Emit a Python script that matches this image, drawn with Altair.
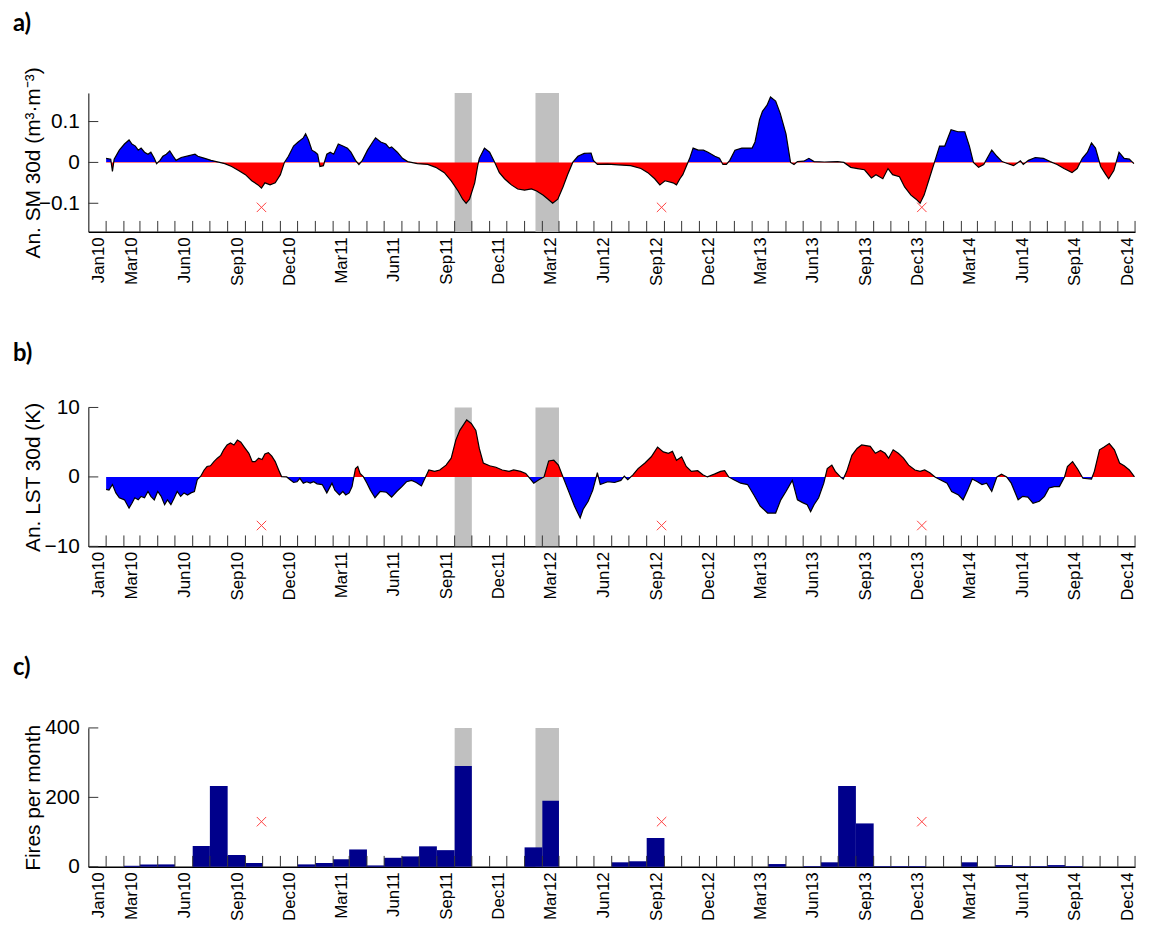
import altair as alt
import pandas as pd

# ---------------- data ----------------
# a) 30-day soil-moisture anomaly (m3/m3)
sm_dates = [
    "2010-01-01", "2010-01-09", "2010-01-12", "2010-01-15", "2010-01-24", "2010-02-02", "2010-02-10",
    "2010-02-15", "2010-02-21", "2010-02-26", "2010-03-03", "2010-03-09", "2010-03-15", "2010-03-20",
    "2010-03-26", "2010-03-30", "2010-04-05", "2010-04-10", "2010-04-16", "2010-04-22", "2010-04-28",
    "2010-05-03", "2010-05-12", "2010-05-24", "2010-06-05", "2010-06-10", "2010-06-22", "2010-07-03",
    "2010-07-12", "2010-07-18", "2010-07-27", "2010-08-08", "2010-08-20", "2010-09-01", "2010-09-12",
    "2010-09-23", "2010-09-29", "2010-10-05", "2010-10-14", "2010-10-23", "2010-11-01", "2010-11-08",
    "2010-11-15", "2010-11-24", "2010-12-02", "2010-12-11", "2010-12-15", "2010-12-20", "2010-12-26",
    "2011-01-01", "2011-01-05", "2011-01-09", "2011-01-15", "2011-01-21", "2011-01-27", "2011-02-02",
    "2011-02-10", "2011-02-18", "2011-02-26", "2011-03-04", "2011-03-12", "2011-03-18", "2011-03-24",
    "2011-04-02", "2011-04-11", "2011-04-16", "2011-04-25", "2011-05-04", "2011-05-10", "2011-05-14",
    "2011-05-24", "2011-06-02", "2011-06-11", "2011-06-28", "2011-07-16", "2011-07-30", "2011-08-14",
    "2011-08-26", "2011-09-07", "2011-09-15", "2011-09-21", "2011-09-27", "2011-10-06", "2011-10-11",
    "2011-10-14", "2011-10-23", "2011-11-01", "2011-11-10", "2011-11-18", "2011-11-27", "2011-12-09",
    "2011-12-20", "2012-01-01", "2012-01-13", "2012-01-22", "2012-02-02", "2012-02-11", "2012-02-19",
    "2012-02-28", "2012-03-08", "2012-03-16", "2012-03-25", "2012-04-03", "2012-04-14", "2012-04-26",
    "2012-04-30", "2012-05-07", "2012-05-25", "2012-06-12", "2012-07-04", "2012-07-22", "2012-08-03",
    "2012-08-15", "2012-08-24", "2012-09-02", "2012-09-16", "2012-09-22", "2012-09-28", "2012-10-03",
    "2012-10-09", "2012-10-15", "2012-10-21", "2012-10-30", "2012-11-08", "2012-11-16", "2012-11-28",
    "2012-12-06", "2012-12-12", "2012-12-18", "2012-12-24", "2013-01-02", "2013-01-14", "2013-02-01",
    "2013-02-06", "2013-02-14", "2013-02-19", "2013-02-27", "2013-03-05", "2013-03-14", "2013-03-22",
    "2013-04-01", "2013-04-09", "2013-04-15", "2013-04-21", "2013-05-02", "2013-05-11", "2013-05-20",
    "2013-06-07", "2013-06-30", "2013-07-11", "2013-07-23", "2013-08-04", "2013-08-16", "2013-08-28",
    "2013-09-05", "2013-09-17", "2013-09-26", "2013-10-04", "2013-10-16", "2013-10-25", "2013-11-05",
    "2013-11-14", "2013-11-21", "2013-11-28", "2013-12-07", "2013-12-16", "2013-12-25", "2014-01-03",
    "2014-01-14", "2014-01-26", "2014-02-07", "2014-02-15", "2014-02-22", "2014-03-03", "2014-03-12",
    "2014-03-18", "2014-03-26", "2014-04-04", "2014-04-13", "2014-04-21", "2014-05-03", "2014-05-15",
    "2014-05-20", "2014-05-29", "2014-06-10", "2014-06-24", "2014-07-06", "2014-07-18", "2014-07-30",
    "2014-08-13", "2014-08-22", "2014-08-31", "2014-09-09", "2014-09-16", "2014-09-23", "2014-10-02",
    "2014-10-11", "2014-10-16", "2014-10-25", "2014-11-03", "2014-11-12", "2014-11-21", "2014-11-29",
]
sm_values = [
    0.010, 0.008, -0.022, 0.008, 0.030, 0.045, 0.055,
    0.045, 0.040, 0.030, 0.035, 0.025, 0.020, 0.025,
    0.010, -0.003, 0.005, 0.015, 0.020, 0.028, 0.015,
    0.005, 0.012, 0.016, 0.020, 0.015, 0.010, 0.005,
    0.002, 0.000, -0.003, -0.010, -0.020, -0.030, -0.045,
    -0.055, -0.063, -0.050, -0.055, -0.050, -0.030, 0.000,
    0.015, 0.040, 0.050, 0.060, 0.070, 0.055, 0.030,
    0.025, 0.020, -0.010, -0.008, 0.020, 0.025, 0.020,
    0.045, 0.040, 0.035, 0.025, 0.005, -0.005, 0.005,
    0.030, 0.050, 0.060, 0.050, 0.045, 0.035, 0.038,
    0.025, 0.010, 0.002, -0.003, -0.005, -0.012, -0.025,
    -0.045, -0.070, -0.090, -0.100, -0.090, -0.050, -0.010,
    0.010, 0.035, 0.025, 0.000, -0.025, -0.040, -0.055,
    -0.065, -0.068, -0.065, -0.070, -0.080, -0.090, -0.100,
    -0.090, -0.060, -0.030, 0.000, 0.015, 0.022, 0.023,
    0.005, -0.005, -0.004, -0.006, -0.008, -0.015, -0.025,
    -0.040, -0.055, -0.045, -0.050, -0.055, -0.040, -0.030,
    -0.010, 0.010, 0.035, 0.030, 0.030, 0.025, 0.015,
    0.010, -0.005, -0.005, 0.005, 0.030, 0.035, 0.035,
    0.050, 0.105, 0.125, 0.140, 0.160, 0.150, 0.120,
    0.070, 0.000, -0.005, 0.002, 0.003, 0.010, 0.002,
    0.001, 0.002, 0.000, -0.012, -0.015, -0.018, -0.038,
    -0.030, -0.040, -0.015, -0.030, -0.035, -0.060, -0.080,
    -0.090, -0.100, -0.080, -0.040, 0.000, 0.040, 0.040,
    0.080, 0.075, 0.075, 0.040, 0.000, -0.012, -0.005,
    0.010, 0.030, 0.015, 0.002, -0.002, -0.008, 0.004,
    -0.005, 0.005, 0.012, 0.010, 0.002, -0.005, -0.015,
    -0.025, -0.015, 0.010, 0.025, 0.048, 0.035, -0.010,
    -0.030, -0.040, -0.020, 0.025, 0.010, 0.008, -0.003,
]

# b) 30-day land-surface-temperature anomaly (K)
lst_dates = [
    "2010-01-01", "2010-01-06", "2010-01-12", "2010-01-18", "2010-01-24", "2010-02-02", "2010-02-10",
    "2010-02-15", "2010-02-20", "2010-02-26", "2010-03-03", "2010-03-09", "2010-03-15", "2010-03-20",
    "2010-03-26", "2010-04-01", "2010-04-07", "2010-04-13", "2010-04-18", "2010-04-24", "2010-04-30",
    "2010-05-05", "2010-05-11", "2010-05-17", "2010-05-23", "2010-05-29", "2010-06-04", "2010-06-09",
    "2010-06-15", "2010-06-21", "2010-06-26", "2010-07-02", "2010-07-08", "2010-07-14", "2010-07-20",
    "2010-07-25", "2010-07-31", "2010-08-06", "2010-08-12", "2010-08-18", "2010-08-24", "2010-08-30",
    "2010-09-07", "2010-09-13", "2010-09-18", "2010-09-24", "2010-09-30", "2010-10-05", "2010-10-11",
    "2010-10-17", "2010-10-23", "2010-10-29", "2010-11-03", "2010-11-12", "2010-11-18", "2010-11-24",
    "2010-11-30", "2010-12-05", "2010-12-11", "2010-12-17", "2010-12-23", "2010-12-29", "2011-01-04",
    "2011-01-13", "2011-01-21", "2011-01-30", "2011-02-04", "2011-02-12", "2011-02-18", "2011-02-23",
    "2011-03-01", "2011-03-06", "2011-03-12", "2011-03-16", "2011-03-20", "2011-03-26", "2011-04-01",
    "2011-04-07", "2011-04-15", "2011-04-24", "2011-05-05", "2011-05-14", "2011-05-23", "2011-06-01",
    "2011-06-09", "2011-06-18", "2011-06-26", "2011-07-05", "2011-07-10", "2011-07-18", "2011-07-28",
    "2011-08-06", "2011-08-17", "2011-08-26", "2011-09-03", "2011-09-10", "2011-09-18", "2011-09-22",
    "2011-09-30", "2011-10-08", "2011-10-14", "2011-10-21", "2011-11-01", "2011-11-12", "2011-11-23",
    "2011-12-05", "2011-12-13", "2011-12-25", "2012-01-03", "2012-01-12", "2012-01-17", "2012-01-26",
    "2012-02-04", "2012-02-12", "2012-02-21", "2012-02-29", "2012-03-08", "2012-03-17", "2012-03-28",
    "2012-04-07", "2012-04-12", "2012-04-21", "2012-04-29", "2012-05-07", "2012-05-12", "2012-05-25",
    "2012-06-06", "2012-06-17", "2012-06-23", "2012-06-29", "2012-07-08", "2012-07-17", "2012-07-29",
    "2012-08-09", "2012-08-20", "2012-08-30", "2012-09-08", "2012-09-15", "2012-09-22", "2012-10-01",
    "2012-10-09", "2012-10-18", "2012-10-29", "2012-11-07", "2012-11-15", "2012-11-27", "2012-12-08",
    "2012-12-15", "2012-12-22", "2012-12-31", "2013-01-12", "2013-01-24", "2013-02-04", "2013-02-15",
    "2013-02-28", "2013-03-14", "2013-03-23", "2013-04-01", "2013-04-12", "2013-04-21", "2013-04-30",
    "2013-05-08", "2013-05-14", "2013-05-20", "2013-05-28", "2013-06-06", "2013-06-12", "2013-06-20",
    "2013-06-26", "2013-07-05", "2013-07-10", "2013-07-16", "2013-07-25", "2013-08-03", "2013-08-11",
    "2013-08-26", "2013-09-04", "2013-09-13", "2013-09-21", "2013-09-27", "2013-10-05", "2013-10-14",
    "2013-10-23", "2013-11-01", "2013-11-12", "2013-11-21", "2013-11-29", "2013-12-08", "2013-12-17",
    "2013-12-26", "2014-01-07", "2014-01-15", "2014-01-27", "2014-02-04", "2014-02-12", "2014-02-20",
    "2014-03-01", "2014-03-09", "2014-03-17", "2014-03-26", "2014-04-04", "2014-04-12", "2014-04-21",
    "2014-04-29", "2014-05-11", "2014-05-19", "2014-05-28", "2014-06-06", "2014-06-17", "2014-06-26",
    "2014-07-04", "2014-07-13", "2014-07-22", "2014-07-31", "2014-08-05", "2014-08-14", "2014-08-23",
    "2014-09-01", "2014-09-16", "2014-09-21", "2014-09-30", "2014-10-08", "2014-10-17", "2014-10-26",
    "2014-11-04", "2014-11-12", "2014-11-21", "2014-11-30",
]
lst_values = [
    -1.8, -1.9, -1.1, -2.3, -3.0, -3.3, -4.5,
    -3.8, -3.0, -3.3, -2.8, -3.0, -2.1, -2.8,
    -3.3, -2.1, -2.8, -4.0, -3.3, -4.0, -3.0,
    -2.1, -2.8, -2.3, -2.6, -2.3, -2.1, -0.4,
    0.1, 1.0, 1.5, 1.6, 2.2, 2.7, 3.1,
    3.9, 4.6, 4.9, 4.6, 5.3, 5.0, 4.3,
    3.4, 2.2, 2.2, 2.7, 2.5, 3.3, 3.5,
    3.0, 2.2, 1.0, 0.05, 0.0, -0.4, -0.8,
    -0.7, -0.2, -0.9, -0.7, -0.9, -0.7, -1.0,
    -1.1, -2.3, -0.9, -1.9, -2.6, -2.1, -2.6,
    -2.3, -1.4, 1.2, 1.5, 0.5, 0.0, -0.9,
    -1.9, -3.0, -2.1, -2.2, -2.9, -2.1, -1.4,
    -0.7, -0.5, -0.8, -1.3, -0.4, 1.0, 0.8,
    1.0, 1.7, 2.7, 5.3, 6.7, 7.7, 8.2,
    7.7, 6.7, 4.1, 2.0, 1.6, 1.4, 1.0,
    0.8, 1.0, 0.8, 0.5, -0.4, -0.9, -0.4,
    0.0, 2.3, 2.4, 1.7, 0.0, -1.9, -4.2,
    -5.9, -4.7, -3.5, -1.9, 0.6, -1.1, -0.7,
    -0.8, -0.5, 0.1, -0.4, 0.3, 1.2, 2.0,
    2.9, 4.3, 3.6, 3.4, 3.7, 2.4, 2.9,
    1.5, 0.8, 0.9, 0.3, 0.0, 0.4, 0.8,
    0.9, 0.0, -0.4, -0.9, -1.1, -2.6, -4.2,
    -5.2, -5.2, -3.3, -2.1, -0.5, -3.3, -3.7,
    -4.0, -5.0, -4.0, -3.0, -0.9, 1.2, 1.7,
    0.8, 0.0, -0.3, 0.8, 3.1, 4.1, 4.6,
    4.4, 3.4, 3.8, 3.4, 2.7, 3.9, 3.4,
    2.7, 1.7, 1.0, 0.8, 1.0, 0.6, 0.0,
    -0.4, -0.9, -2.1, -2.6, -3.3, -1.9, -0.3,
    -0.7, -1.1, -0.9, -2.1, 0.0, 0.4, 0.0,
    -0.9, -3.3, -2.8, -2.9, -3.8, -3.5, -2.8,
    -1.6, -1.4, -1.4, 0.0, 1.5, 2.2, 1.1,
    -0.2, -0.3, 0.8, 3.9, 4.3, 4.8, 3.9,
    2.0, 1.6, 1.0, 0.0,
]

# c) fires per month, Jan 2010 .. Dec 2014
fire_months = [f"{y}-{m:02d}-01" for y in range(2010, 2015) for m in range(1, 13)]
fire_counts = [
    0, 3, 7, 7, 0, 60, 233, 34, 11, 0, 0, 7,          # 2010
    11, 22, 50, 4, 26, 30, 59, 48, 290, 0, 0, 0,      # 2011
    56, 190, 0, 0, 0, 13, 16, 83, 0, 0, 0, 0,         # 2012
    0, 0, 8, 0, 2, 13, 233, 125, 2, 2, 2, 0,          # 2013
    0, 13, 0, 5, 2, 2, 5, 2, 0, 0, 0, 0,              # 2014
]

# grey highlighted periods
shade_start = ["2011-09-01", "2012-01-20"]
shade_end = ["2011-10-01", "2012-03-01"]

# red reference crosses
cross_dates = ["2010-09-29", "2012-08-27", "2013-11-24"]
cross_sm = [-0.11, -0.11, -0.11]
cross_lst = [-7, -7, -7]
cross_fire = [130, 130, 130]

# axis ticks / labels
tick_months = fire_months
label_months = [(2010, 1), (2010, 3), (2010, 6), (2010, 9), (2010, 12), (2011, 3), (2011, 6),
                (2011, 9), (2011, 12), (2012, 3), (2012, 6), (2012, 9), (2012, 12), (2013, 3),
                (2013, 6), (2013, 9), (2013, 12), (2014, 3), (2014, 6), (2014, 9), (2014, 12)]
sm_ticks = [-0.1, 0, 0.1]
lst_ticks = [-10, 0, 10]
fire_ticks = [0, 200, 400]

# ---------------- chart ----------------
W, H = 1055, 140
FONT = "Liberation Sans"

x_scale = alt.Scale(type="utc", domain=[alt.DateTime(year=2009, month=12, date=1, utc=True),
                                         alt.DateTime(year=2014, month=12, date=1, utc=True)])
x_axis = alt.Axis(
    values=[alt.DateTime(year=y, month=m, date=1, utc=True) for y, m in label_months],
    format="%b%y", labelAngle=270, labelAlign="right", labelBaseline="middle",
    labelOffset=-8, labelPadding=5, labelFontSize=17, labelFlush=False, labelOverlap=False,
    ticks=False, tickSize=0, grid=False, domainColor="black", domainWidth=1.5, title=None,
)


def y_axis(vals, title, fmt):
    return alt.Axis(values=vals, format=fmt, ticks=False, tickSize=0, labelPadding=9,
                    labelFontSize=21, minExtent=44, maxExtent=44, titlePadding=1,
                    titleFontSize=21, titleFontWeight="normal", grid=False,
                    domainColor="black", domainWidth=1, title=title)


def sign_gradient(values, top_color, bottom_color):
    f = max(values) / (max(values) - min(values))
    return alt.Gradient(gradient="linear", x1=0, x2=0, y1=0, y2=1, stops=[
        alt.GradientStop(offset=0, color=top_color),
        alt.GradientStop(offset=f, color=top_color),
        alt.GradientStop(offset=f, color=bottom_color),
        alt.GradientStop(offset=1, color=bottom_color),
    ])


def common_layers(yscale, yaxis, cross_vals, y_tick_vals):
    X = lambda f: alt.X(f"{f}:T", scale=x_scale, axis=x_axis)
    Y = lambda f: alt.Y(f"{f}:Q", scale=yscale, axis=yaxis)
    shade = alt.Chart(pd.DataFrame({"s": shade_start, "e": shade_end})).mark_rect(
        color="#c0c0c0").encode(x=X("s"), x2="e:T", y=alt.value(0), y2=alt.value(H))
    cross = alt.Chart(pd.DataFrame({"d": cross_dates, "v": cross_vals})).mark_point(
        shape="M-1,-1L1,1M-1,1L1,-1", size=90, filled=False, color="#ff0000",
        strokeWidth=1, opacity=0.75).encode(x=X("d"), y=Y("v"))
    xt = alt.Chart(pd.DataFrame({"d": tick_months})).mark_rule(
        color="#333333", strokeWidth=1).encode(x=X("d"), y=alt.value(H), y2=alt.value(H - 11))
    yt = alt.Chart(pd.DataFrame({"v": y_tick_vals})).mark_rule(
        color="#333333", strokeWidth=1).encode(y=Y("v"), x=alt.value(0), x2=alt.value(10))
    return shade, cross, xt, yt, X, Y


def panel_title(text, offset):
    return alt.TitleParams(text, anchor="start", frame="group", dx=-76, offset=offset,
                           fontSize=24, fontWeight="bold", font="Lato", color="black")


def anomaly_panel(dates, values, yscale, yaxis, top_color, bottom_color, cross_vals,
                  y_tick_vals, title, offset):
    shade, cross, xt, yt, X, Y = common_layers(yscale, yaxis, cross_vals, y_tick_vals)
    base = alt.Chart(pd.DataFrame({"d": dates, "v": values}))
    area = base.mark_area(color=sign_gradient(values, top_color, bottom_color)).encode(
        x=X("d"), y=Y("v"), y2=alt.datum(0))
    line = base.mark_line(color="black", strokeWidth=1.2).encode(x=X("d"), y=Y("v"))
    return alt.layer(shade, area, line, cross, xt, yt).properties(
        width=W, height=H, title=panel_title(title, offset))


sm_scale = alt.Scale(domain=[-0.17, 0.17], nice=False, zero=False)
lst_scale = alt.Scale(domain=[-10, 10], nice=False, zero=False)
fire_scale = alt.Scale(domain=[0, 400], nice=False)

panel_a = anomaly_panel(sm_dates, sm_values, sm_scale,
                        y_axis(sm_ticks, "An. SM 30d (m³·m⁻³)", ".1~f"), "#0000ff", "#ff0000",
                        cross_sm, sm_ticks, "a)", 31)
panel_b = anomaly_panel(lst_dates, lst_values, lst_scale,
                        y_axis(lst_ticks, "An. LST 30d (K)", "d"), "#ff0000", "#0000ff",
                        cross_lst, lst_ticks, "b)", 31)

shade_c, cross_c, xt_c, yt_c, Xc, Yc = common_layers(
    fire_scale, y_axis(fire_ticks, "Fires per month", "d"), cross_fire, fire_ticks)
bars = alt.Chart(pd.DataFrame({"m": fire_months, "n": fire_counts})).transform_filter(
    "datum.n > 0").transform_calculate(
    e="utcOffset('month', toDate(datum.m), 1)").mark_rect(color="#00008b").encode(
    x=Xc("m"), x2="e:T", y=Yc("n"), y2=alt.datum(0))
panel_c = alt.layer(shade_c, bars, cross_c, xt_c, yt_c).properties(
    width=W, height=H, title=panel_title("c)", 37))

chart = alt.vconcat(panel_a, panel_b, panel_c, spacing=56).properties(
    padding={"left": 5, "top": 0, "right": 5, "bottom": 0}
).configure_view(stroke=None).configure_axis(
    labelFont=FONT, titleFont=FONT, labelColor="black", titleColor="black"
)

chart.save("out.html", embed_options={"renderer": "svg", "actions": False})
